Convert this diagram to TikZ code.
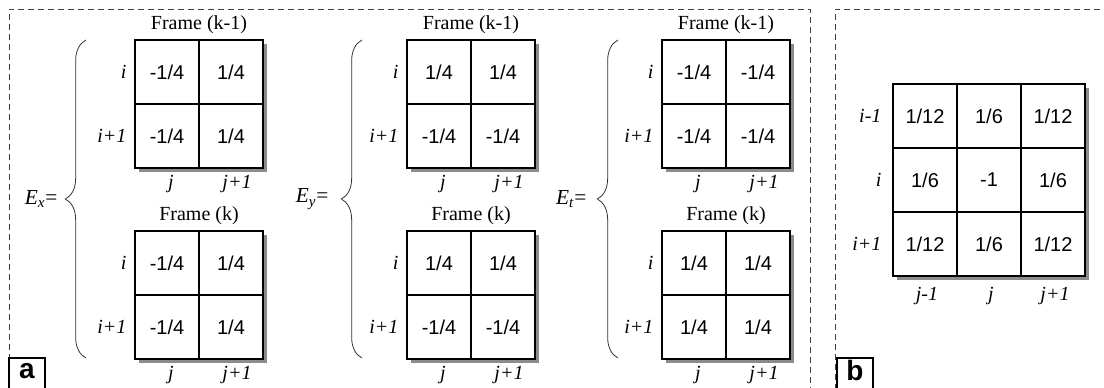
\documentclass[tikz,border=0pt]{standalone}
\usepackage{fontspec}
\setmainfont{Liberation Serif}
\setsansfont{Liberation Sans}
\usetikzlibrary{decorations.pathreplacing}

\tikzset{
  cell/.style={draw, fill=white, line width=1pt, minimum size=48pt, inner sep=0pt,
    font=\sffamily\fontsize{15}{18}\selectfont},
  idx/.style={font=\itshape\fontsize{15}{18}\selectfont, inner sep=1pt},
  frametitle/.style={font=\fontsize{15}{18}\selectfont, inner sep=1pt},
  eqlabel/.style={anchor=east, font=\fontsize{16}{19}\selectfont},
  gridshadow/.style={fill=black!45},
  panel/.style={draw=black!75, line width=0.6pt, dash pattern=on 4.5pt off 3pt},
  curly/.style={decorate, decoration={brace, amplitude=15.5pt}, line width=0.6pt, black!80},
  tagbox/.style={draw, fill=white, line width=0.8pt},
  tag/.style={inner sep=0pt, font=\sffamily\bfseries\fontsize{21}{24}\selectfont}
}

% 2x2 kernel with frame title and i/j indices
\newcommand{\kernelgrid}[8]{%
  \fill[gridshadow] (#2+4,#3+4) rectangle (#2+132,#3+132);
  \node[cell] (#1-11) at (#2+32,#3+32) {#4};
  \node[cell] (#1-12) at (#2+96,#3+32) {#5};
  \node[cell] (#1-21) at (#2+32,#3+96) {#6};
  \node[cell] (#1-22) at (#2+96,#3+96) {#7};
  \node[frametitle] (#1-t) at (#2+64,#3-15) {#8};
  \node[idx, anchor=east] (#1-ri) at (#2-7,#3+32) {i};
  \node[idx, anchor=east] (#1-rii) at (#2-7,#3+96) {i+1};
  \node[idx] (#1-cj) at (#2+36,#3+144) {j};
  \node[idx] (#1-cjj) at (#2+102,#3+144) {j+1};
}

\begin{document}
\begin{tikzpicture}[x=0.75pt, y=-0.75pt]

    \useasboundingbox (0,0) rectangle (1104,388);
    \clip (0,0) rectangle (1104,388);
    \fill[white] (0,0) rectangle (1104,388);

    % Dashed panels
    \draw[panel] (9,400) -- (9,9) -- (810,9) -- (810,400);
    \draw[panel] (835,400) -- (835,9) -- (1110,9);

    % Panel a: E_x
    \kernelgrid{ex-top}{135}{40}{-1/4}{1/4}{-1/4}{1/4}{Frame (k-1)}
    \kernelgrid{ex-bot}{135}{231}{-1/4}{1/4}{-1/4}{1/4}{Frame (k)}
    \draw[curly] (86,358) -- (86,40);
    \node[eqlabel] (ex) at (62,199) {\textit{E}\textsubscript{\textit{x}}=};

    % Panel a: E_y
    \kernelgrid{ey-top}{407}{40}{1/4}{1/4}{-1/4}{-1/4}{Frame (k-1)}
    \kernelgrid{ey-bot}{407}{231}{1/4}{1/4}{-1/4}{-1/4}{Frame (k)}
    \draw[curly] (362,358) -- (362,40);
    \node[eqlabel] (ey) at (333,199) {\textit{E}\textsubscript{\textit{y}}=};

    % Panel a: E_t
    \kernelgrid{et-top}{662}{40}{-1/4}{-1/4}{-1/4}{-1/4}{Frame (k-1)}
    \kernelgrid{et-bot}{662}{231}{1/4}{1/4}{1/4}{1/4}{Frame (k)}
    \draw[curly] (618,358) -- (618,40);
    \node[eqlabel] (et) at (591,199) {\textit{E}\textsubscript{\textit{t}}=};

    % Panel b: 3x3 Laplacian kernel
    \fill[gridshadow] (897,88) rectangle (1089,280);
    \node[cell] (lap-11) at (925,116) {1/12};
    \node[cell] (lap-12) at (989,116) {1/6};
    \node[cell] (lap-13) at (1053,116) {1/12};
    \node[cell] (lap-21) at (925,180) {1/6};
    \node[cell] (lap-22) at (989,180) {-1};
    \node[cell] (lap-23) at (1053,180) {1/6};
    \node[cell] (lap-31) at (925,244) {1/12};
    \node[cell] (lap-32) at (989,244) {1/6};
    \node[cell] (lap-33) at (1053,244) {1/12};
    \foreach \lab [count=\k] in {i-1, i, i+1}{
        \node[idx, anchor=east] (lap-r\k) at (883,{52+64*\k}) {\lab};
    }
    \foreach \lab [count=\k] in {j-1, j, j+1}{
        \node[idx] (lap-c\k) at ({863+64*\k},296) {\lab};
    }

    % Panel tags
    \draw[tagbox] (9,400) rectangle (45,358);
    \node[tag] (tag-a) at (27,371) {a};
    \draw[tagbox] (837,400) rectangle (873,358);
    \node[tag] (tag-b) at (855,370) {b};

\end{tikzpicture}
\end{document}
